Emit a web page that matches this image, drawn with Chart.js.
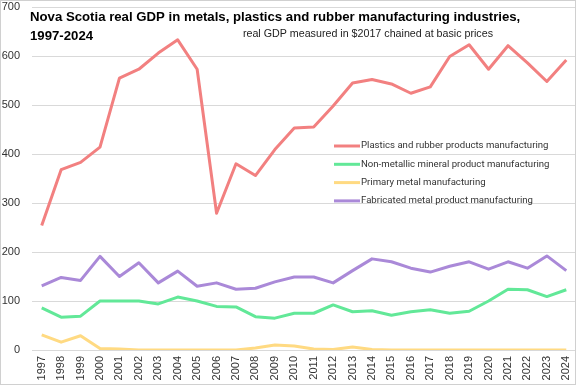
<!DOCTYPE html>
<html>
<head>
<meta charset="utf-8">
<script src="https://cdn.jsdelivr.net/npm/chart.js@4"></script>
<style>
  html, body { margin: 0; padding: 0; background: #fff; }
  #wrap { position: relative; width: 576px; height: 385px; }
</style>
</head>
<body>
<div id="wrap"><canvas id="gdpChart" width="576" height="385"></canvas></div>
<script>
// data
const years = ['1997','1998','1999','2000','2001','2002','2003','2004','2005','2006','2007','2008','2009','2010',
               '2011','2012','2013','2014','2015','2016','2017','2018','2019','2020','2021','2022','2023','2024'];
const plastics   = [254, 368, 383, 414, 555, 573, 606, 633, 573, 279, 380, 356, 409, 453,
                    455, 498, 545, 552, 543, 524, 537, 599, 623, 573, 621, 586, 548, 592];
const nonMetallic = [86, 67, 69, 100, 100, 100, 94, 108, 100, 89, 88, 68, 65, 75,
                     75, 92, 78, 80, 71, 78, 82, 75, 79, 100, 124, 123, 109, 123];
const primaryMetal = [31, 16, 29, 3, 2, 0, 0, 0, 0, 0, 0, 4, 10, 8,
                      2, 1, 6, 1, 0, 0, 0, 0, 0, 0, 0, 0, 0, 0];
const fabricated = [131, 148, 142, 191, 150, 178, 137, 161, 130, 137, 124, 126, 139, 149,
                    149, 137, 162, 186, 180, 167, 159, 171, 180, 165, 180, 167, 192, 162];
const seriesNames = ['Plastics and rubber products manufacturing',
                     'Non-metallic mineral product manufacturing',
                     'Primary metal manufacturing',
                     'Fabricated metal product manufacturing'];
const seriesColors = ['rgb(242,128,128)', 'rgb(98,232,152)', 'rgb(255,218,130)', 'rgb(170,137,216)'];

const titleLines = ['Nova Scotia real GDP in metals, plastics and rubber manufacturing industries,', '1997-2024'];
const subtitle = 'real GDP measured in $2017 chained at basic prices';

const seriesData = [plastics, nonMetallic, primaryMetal, fabricated];

// title, subtitle, legend and frame drawn over the plot
const overlay = {
    id: 'overlay',
    afterDraw(chart) {
        const c = chart.ctx;
        c.save();
        c.fillStyle = '#000';
        c.textBaseline = 'alphabetic';
        c.textAlign = 'left';
        c.font = 'bold 13.2px "Liberation Sans", sans-serif';
        c.fillText(titleLines[0], 30, 21);
        c.fillText(titleLines[1], 30, 40);

        c.font = '10.7px "Liberation Sans", sans-serif';
        c.fillStyle = '#222';
        c.textAlign = 'right';
        c.fillText(subtitle, 493, 37);

        // legend
        c.textAlign = 'left';
        c.textBaseline = 'middle';
        c.font = '9.6px "Roboto", sans-serif';
        chart.data.datasets.forEach((ds, i) => {
            const y = 146 + i * 18.3;
            c.strokeStyle = ds.borderColor;
            c.lineWidth = 3;
            c.beginPath();
            c.moveTo(334, y);
            c.lineTo(360, y);
            c.stroke();
            c.fillStyle = '#333';
            c.fillText(ds.label, 361, y);
        });

        c.strokeStyle = '#d0d0d0';
        c.lineWidth = 1;
        c.strokeRect(0.5, 0.5, chart.width - 1, chart.height - 1);
        c.restore();
    }
};

new Chart(document.getElementById('gdpChart'), {
    type: 'line',
    data: {
        labels: years,
        datasets: seriesData.map((d, i) => ({
            label: seriesNames[i],
            data: d,
            borderColor: seriesColors[i],
            backgroundColor: seriesColors[i],
            borderWidth: 3,
            pointRadius: 0,
            tension: 0,
            borderJoinStyle: 'round'
        }))
    },
    options: {
        responsive: false,
        animation: false,
        layout: { padding: { top: 7, right: 0, left: 0, bottom: 0 } },
        scales: {
            x: {
                offset: true,
                grid: { display: false, drawTicks: false },
                border: { display: false },
                afterFit: (s) => { s.height = 35; s.paddingLeft = 0; s.paddingRight = 0; },
                ticks: {
                    minRotation: 90, maxRotation: 90,
                    autoSkip: false,
                    padding: 6,
                    color: '#333',
                    font: { family: 'Liberation Sans', size: 11 }
                }
            },
            y: {
                min: 0, max: 700,
                grid: { color: '#d9d9d9', drawTicks: false },
                border: { display: false },
                afterFit: (s) => { s.width = 32; s.paddingTop = 0; s.paddingBottom = 0; },
                ticks: {
                    stepSize: 100,
                    padding: 12,
                    color: '#333',
                    font: { family: 'Liberation Sans', size: 11 }
                }
            }
        },
        plugins: {
            legend: { display: false },
            tooltip: { enabled: false }
        }
    },
    plugins: [overlay]
});
</script>
</body>
</html>
